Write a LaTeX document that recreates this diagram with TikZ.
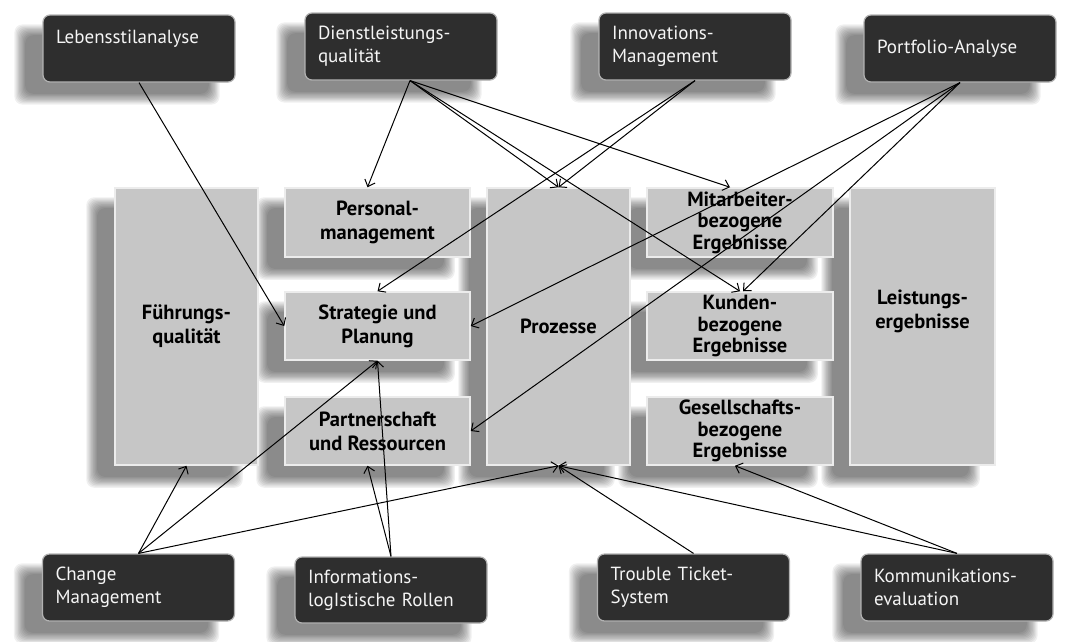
\documentclass[tikz,border=0pt]{standalone}
\usepackage{fontspec}
\setmainfont{PT Sans}
\usetikzlibrary{arrows.meta}

\pgfdeclarelayer{background}
\pgfsetlayers{background,main}

% weicher Schatten links unten
\newcommand{\softshadow}[1]{%
	\foreach \s in {0,1.2,...,10.8}
		\fill[black, opacity=0.06, rounded corners=8pt]
			([shift={(-28+\s,10+\s)}]#1.north west) rectangle ([shift={(-16-\s,22-\s)}]#1.south east);
}

\begin{document}
\begin{tikzpicture}[x=1pt, y=-1pt,
	tool/.style={draw=gray!60, line width=1.2pt, fill=black!82, rounded corners=7pt,
		text=white!92!gray, text width=166pt, inner xsep=13pt, inner ysep=0pt,
		minimum height=67pt, align=left, font=\fontsize{19}{23}\selectfont},
	field/.style={draw=white!85!gray, line width=1.5pt, fill=gray!45, inner sep=0pt,
		align=center, font=\fontsize{20.5}{24}\bfseries\selectfont},
	tight/.style={font=\fontsize{20.5}{21.5}\bfseries\selectfont},
	link/.style={-{Straight Barb[length=6pt, width=11pt]}, line width=1pt}]
	\useasboundingbox (0,0) rectangle (1071,641);

	% Felder des Modells
	\node[field, minimum width=143pt, minimum height=277pt] (fuehr) at (186.5,326.5) {Führungs-\\qualität};
	\node[field, minimum width=185pt, minimum height=69pt] (pers) at (377.5,222.5) {Personal-\\management};
	\node[field, minimum width=185pt, minimum height=68pt] (strat) at (377.5,326) {Strategie und\\Planung};
	\node[field, minimum width=185pt, minimum height=68pt] (partner) at (377.5,431) {Partnerschaft\\und Ressourcen};
	\node[field, minimum width=143pt, minimum height=277pt] (proz) at (558.5,326.5) {Prozesse};
	\node[field, tight, minimum width=186pt, minimum height=69pt] (mitarb) at (740,222.5) {Mitarbeiter-\\bezogene\\Ergebnisse};
	\node[field, tight, minimum width=186pt, minimum height=68pt] (kunden) at (740,326) {Kunden-\\bezogene\\Ergebnisse};
	\node[field, tight, minimum width=186pt, minimum height=68pt] (gesell) at (740,431) {Gesellschafts-\\bezogene\\Ergebnisse};
	\node[field, minimum width=145pt, minimum height=277pt] (leist) at (922.5,326.5) {Leistungs-\\ergebnisse\\[10pt]};

	% Instrumente oben
	\node[tool] (lebens) at (139,48.5) {Lebensstilanalyse\\\mbox{}};
	\node[tool] (dienst) at (401,46.5) {Dienstleistungs-\\qualität};
	\node[tool] (innov) at (695,46.5) {Innovations-\\Management};
	\node[tool] (portf) at (960,48.5) {Portfolio-Analyse};

	% Instrumente unten
	\node[tool] (change) at (138.5,587.5) {Change\\Management};
	\node[tool, minimum height=66pt] (inform) at (391,590) {Informations-\\logIstische Rollen};
	\node[tool] (trouble) at (693.5,587.5) {Trouble Ticket-\\System};
	\node[tool] (kommu) at (957,587.5) {Kommunikations-\\evaluation};

	\begin{pgfonlayer}{background}
		\foreach \n in {fuehr,pers,strat,partner,proz,mitarb,kunden,gesell,leist,
			lebens,dienst,innov,portf,change,inform,trouble,kommu}
			\softshadow{\n};
	\end{pgfonlayer}

	% Verbindungen
	\draw[link] (lebens.south) -- (strat.west);
	\draw[link] ([xshift=9pt]dienst.south) -- ([xshift=-10pt]pers.north);
	\draw[link] ([xshift=9pt]dienst.south) -- (proz.north);
	\draw[link] ([xshift=9pt]dienst.south) -- ([xshift=-10pt]mitarb.north);
	\draw[link] ([xshift=9pt]dienst.south) -- (kunden.north);
	\draw[link] (innov.south) -- (proz.north);
	\draw[link] (innov.south) -- (strat.north);
	\draw[link] (portf.south) -- (strat.east);
	\draw[link] (portf.south) -- (partner.east);
	\draw[link] (portf.south) -- ([xshift=3pt]kunden.north);
	\draw[link] (change.north) -- (fuehr.south);
	\draw[link] (change.north) -- (strat.south);
	\draw[link] (change.north) -- (proz.south);
	\draw[link] (inform.north) -- ([xshift=-10pt]partner.south);
	\draw[link] (inform.north) -- (strat.south);
	\draw[link] (trouble.north) -- (proz.south);
	\draw[link] (kommu.north) -- (proz.south);
	\draw[link] (kommu.north) -- ([xshift=-5pt]gesell.south);
\end{tikzpicture}
\end{document}
